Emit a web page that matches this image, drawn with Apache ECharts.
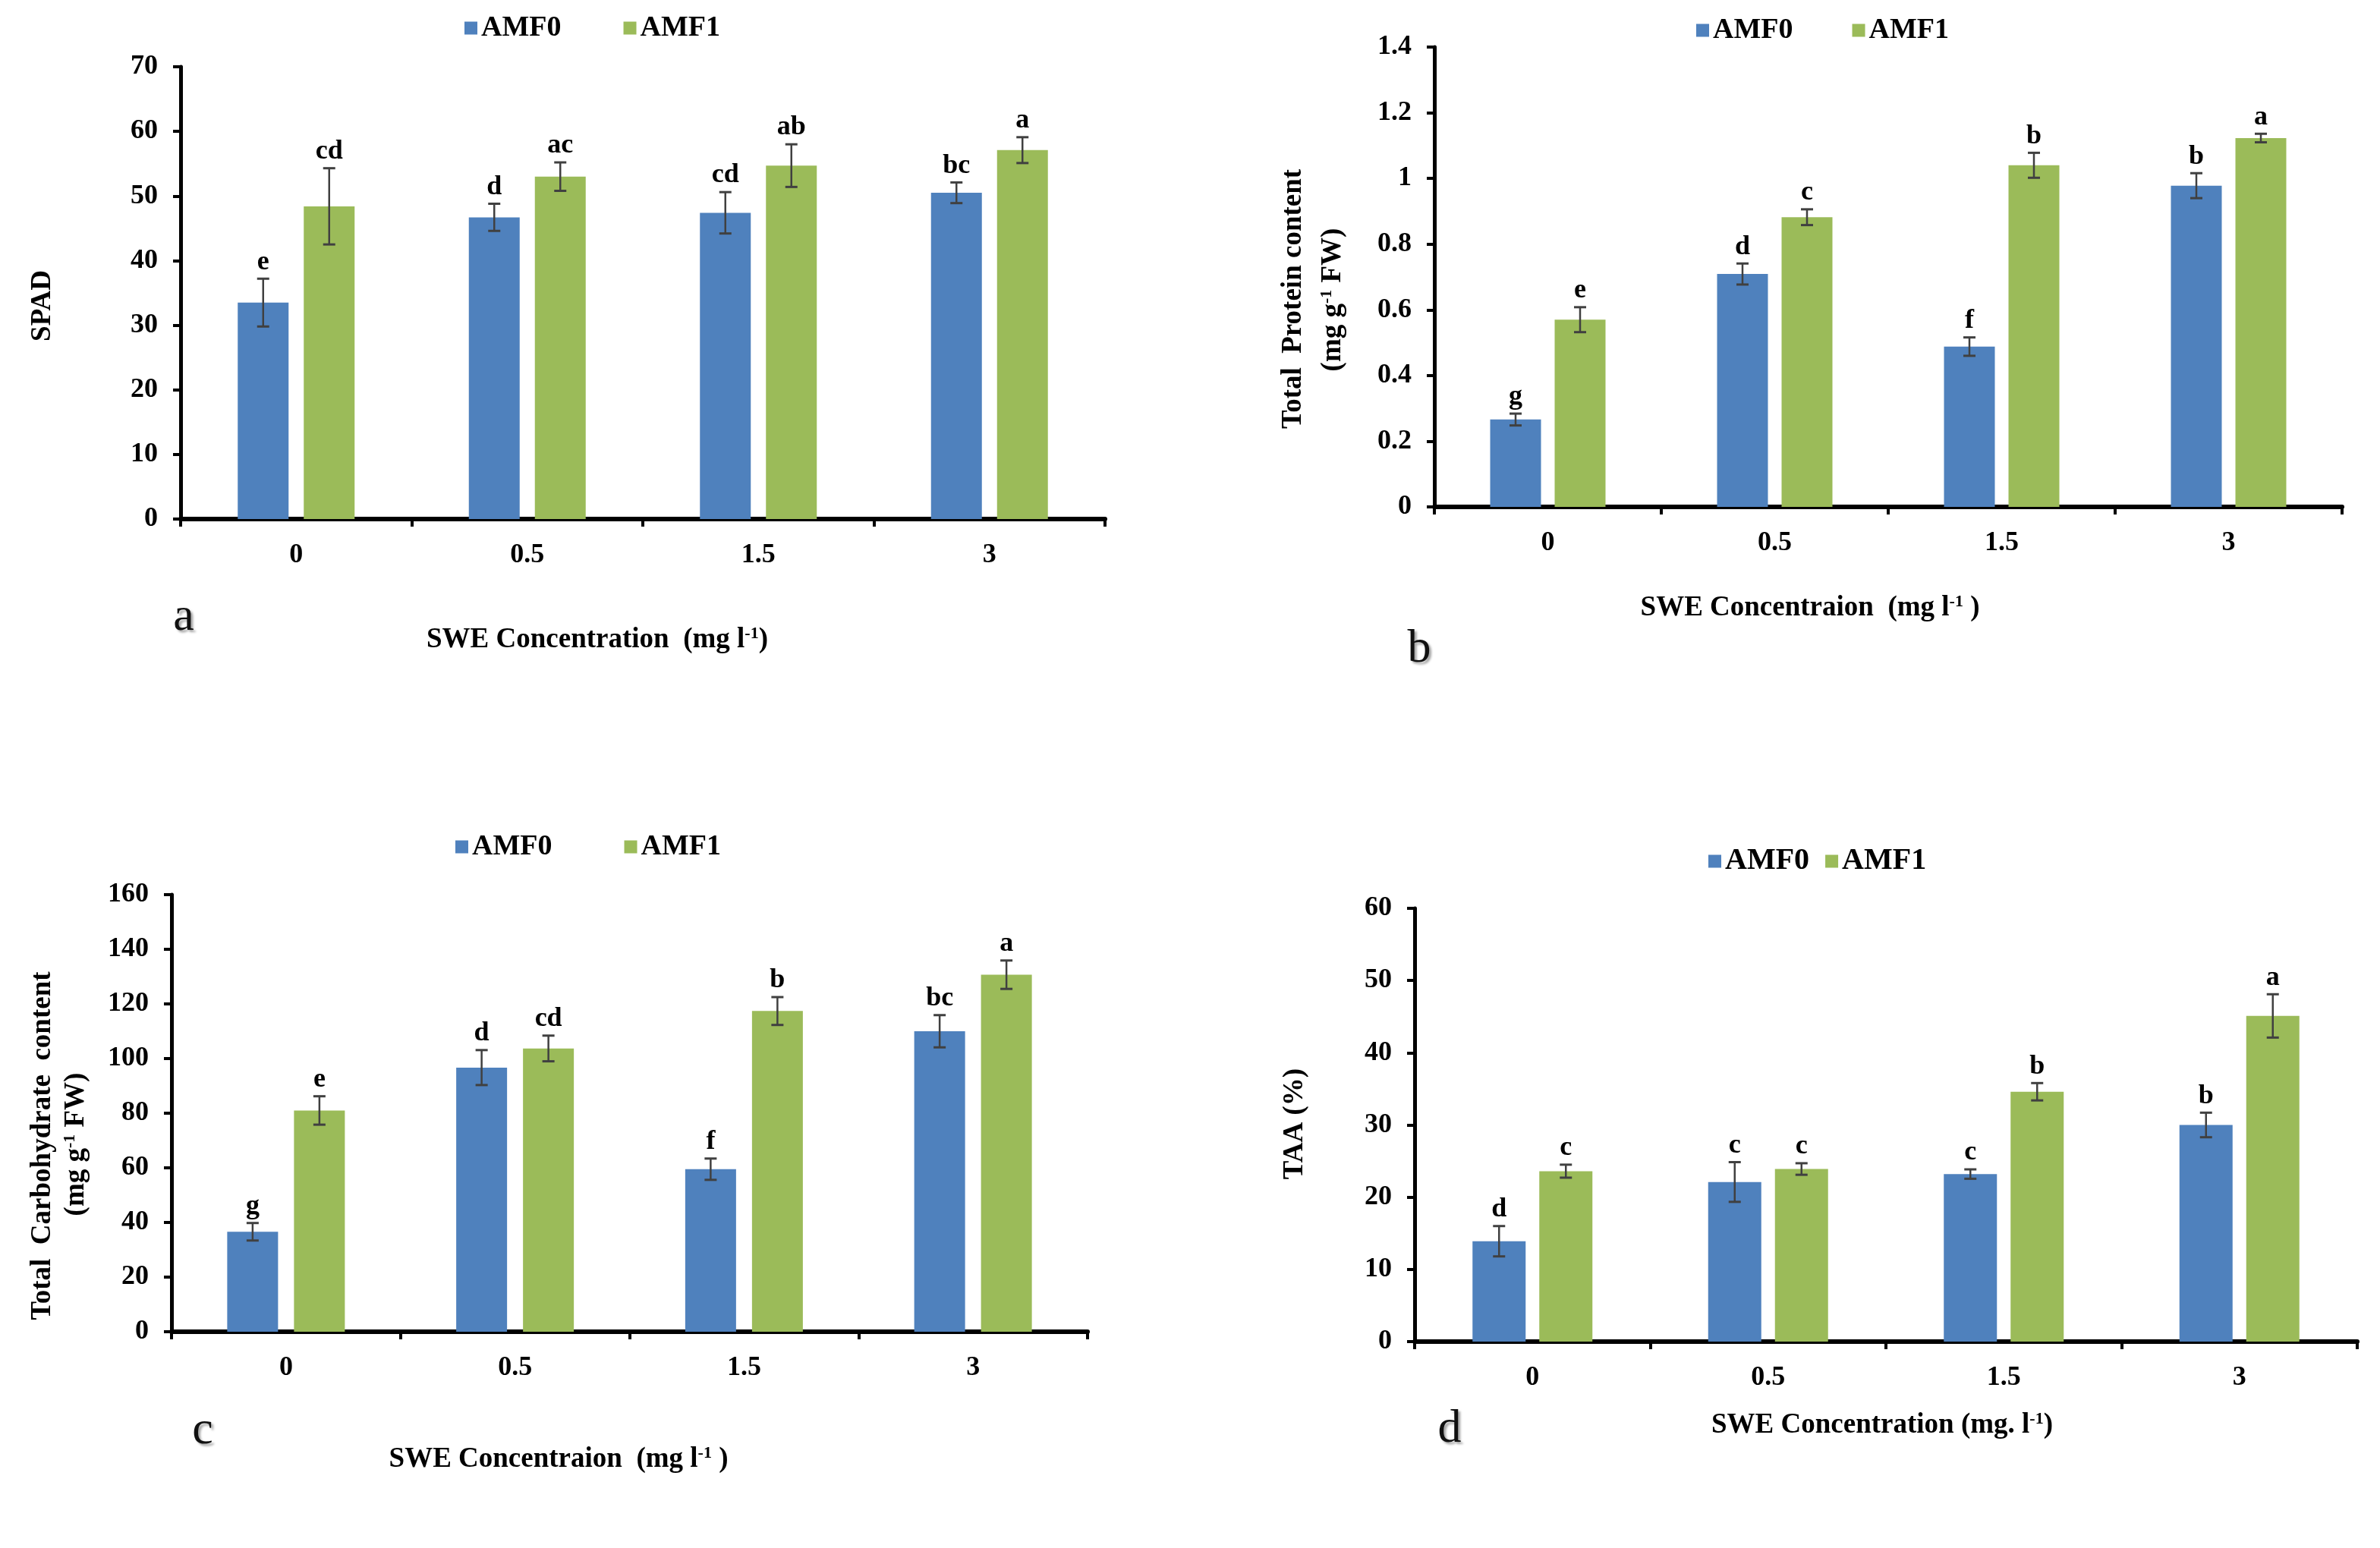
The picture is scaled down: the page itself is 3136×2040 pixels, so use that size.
<!DOCTYPE html>
<html><head><meta charset="utf-8">
<script src="https://cdn.jsdelivr.net/npm/echarts@6/dist/echarts.min.js"></script>
<style>html,body{margin:0;padding:0;background:#fff}#c{width:3136px;height:2040px}</style>
</head><body><div id="c"></div>
<script>
// ---------------- DATA ----------------
const categories = ['0', '0.5', '1.5', '3'];
const seriesNames = ['AMF0', 'AMF1'];

// (a) SPAD
const spadAMF0 = [33.5, 46.7, 47.4, 50.5];
const spadAMF0Err = [3.7, 2.1, 3.2, 1.6];
const spadAMF1 = [48.4, 53.0, 54.7, 57.1];
const spadAMF1Err = [5.9, 2.2, 3.3, 2.0];
const spadAMF0Letters = ['e', 'd', 'cd', 'bc'];
const spadAMF1Letters = ['cd', 'ac', 'ab', 'a'];

// (b) Total protein content
const proteinAMF0 = [0.266, 0.709, 0.488, 0.978];
const proteinAMF0Err = [0.018, 0.032, 0.028, 0.038];
const proteinAMF1 = [0.570, 0.882, 1.040, 1.123];
const proteinAMF1Err = [0.038, 0.024, 0.038, 0.013];
const proteinAMF0Letters = ['g', 'd', 'f', 'b'];
const proteinAMF1Letters = ['e', 'c', 'b', 'a'];

// (c) Total carbohydrate content
const carbAMF0 = [36.6, 96.7, 59.5, 110.0];
const carbAMF0Err = [3.2, 6.4, 3.9, 5.9];
const carbAMF1 = [81.0, 103.7, 117.4, 130.7];
const carbAMF1Err = [5.2, 4.7, 5.1, 5.2];
const carbAMF0Letters = ['g', 'd', 'f', 'bc'];
const carbAMF1Letters = ['e', 'cd', 'b', 'a'];

// (d) TAA (%)
const taaAMF0 = [13.9, 22.1, 23.2, 30.0];
const taaAMF0Err = [2.1, 2.75, 0.65, 1.7];
const taaAMF1 = [23.6, 23.9, 34.6, 45.1];
const taaAMF1Err = [0.9, 0.8, 1.2, 3.0];
const taaAMF0Letters = ['d', 'c', 'c', 'b'];
const taaAMF1Letters = ['c', 'c', 'b', 'a'];

// axis ranges
const yMax = [70, 1.4, 160, 60];
const yInterval = [10, 0.2, 20, 10];

// ---------------- STYLE / LAYOUT ----------------
const FONT = '"Liberation Serif", "Times New Roman", serif';
const BLUE = '#4F81BD', GREEN = '#9BBB59', ERR = '#404040';

const panels = [
  { grid: { left: 238, top: 88, width: 1218, height: 596 }, barWidth: 67, gap: 20,
    legend: { left: 612, top: 18, itemGap: 82, fontSize: 38 },
    vals: [spadAMF0, spadAMF1], errs: [spadAMF0Err, spadAMF1Err], letters: [spadAMF0Letters, spadAMF1Letters] },
  { grid: { left: 1890, top: 62, width: 1196, height: 606 }, barWidth: 67, gap: 18,
    legend: { left: 2235, top: 21, itemGap: 78, fontSize: 38 },
    vals: [proteinAMF0, proteinAMF1], errs: [proteinAMF0Err, proteinAMF1Err], letters: [proteinAMF0Letters, proteinAMF1Letters] },
  { grid: { left: 226, top: 1179, width: 1207, height: 576 }, barWidth: 67, gap: 21,
    legend: { left: 600, top: 1097, itemGap: 95, fontSize: 38 },
    vals: [carbAMF0, carbAMF1], errs: [carbAMF0Err, carbAMF1Err], letters: [carbAMF0Letters, carbAMF1Letters] },
  { grid: { left: 1864, top: 1197, width: 1242, height: 571 }, barWidth: 70, gap: 18,
    legend: { left: 2251, top: 1115, itemGap: 21, fontSize: 40 },
    vals: [taaAMF0, taaAMF1], errs: [taaAMF0Err, taaAMF1Err], letters: [taaAMF0Letters, taaAMF1Letters] }
];

const grids = [], xAxes = [], yAxes = [], legends = [], series = [];

panels.forEach((p, k) => {
  grids.push(Object.assign({ containLabel: false }, p.grid));
  xAxes.push({
    type: 'category', gridIndex: k, data: categories,
    axisLine: { lineStyle: { color: '#000', width: 6 } },
    axisTick: { show: true, length: 10, lineStyle: { color: '#000', width: 4 } },
    axisLabel: { margin: 30, fontFamily: FONT, fontWeight: 'bold', fontSize: 36, color: '#000' },
    splitLine: { show: false }
  });
  yAxes.push({
    type: 'value', gridIndex: k, min: 0, max: yMax[k], interval: yInterval[k],
    axisLine: { show: true, lineStyle: { color: '#000', width: 5 } },
    axisTick: { show: true, length: 10, lineStyle: { color: '#000', width: 4 } },
    axisLabel: { margin: 30, fontFamily: FONT, fontWeight: 'bold', fontSize: 36, color: '#000' },
    splitLine: { show: false }
  });
  legends.push({
    data: seriesNames, left: p.legend.left, top: p.legend.top, orient: 'horizontal',
    icon: 'rect', itemWidth: 17, itemHeight: 17, itemGap: p.legend.itemGap, padding: 0,
    selectedMode: false,
    textStyle: { fontFamily: FONT, fontWeight: 'bold', fontSize: p.legend.fontSize, color: '#000' }
  });
  [0, 1].forEach(s => {
    series.push({
      name: seriesNames[s], type: 'bar', xAxisIndex: k, yAxisIndex: k,
      data: p.vals[s], barWidth: p.barWidth, barGap: (p.gap / p.barWidth * 100) + '%',
      itemStyle: { color: s === 0 ? BLUE : GREEN }, silent: true
    });
  });
  [0, 1].forEach(s => {
    const offset = (s === 0 ? -1 : 1) * (p.barWidth + p.gap) / 2;
    const letters = p.letters[s];
    series.push({
      type: 'custom', xAxisIndex: k, yAxisIndex: k, z: 5, silent: true,
      data: p.vals[s].map((v, i) => [i, v, p.errs[s][i]]),
      encode: { x: 0, y: 1 },
      renderItem: (params, api) => {
        const i = api.value(0), v = api.value(1), e = api.value(2);
        const t = api.coord([i, v + e]);
        const b = api.coord([i, v - e]);
        const x = t[0] + offset;
        const cw = 8;
        const ls = { stroke: ERR, lineWidth: 3 };
        return {
          type: 'group', children: [
            { type: 'line', shape: { x1: x, y1: t[1], x2: x, y2: b[1] }, style: { stroke: ERR, lineWidth: 2.5 } },
            { type: 'line', shape: { x1: x - cw, y1: t[1], x2: x + cw, y2: t[1] }, style: ls },
            { type: 'line', shape: { x1: x - cw, y1: b[1], x2: x + cw, y2: b[1] }, style: ls },
            { type: 'text', style: { text: letters[params.dataIndex], x: x, y: t[1] - 4,
                align: 'center', verticalAlign: 'bottom', fill: '#000',
                font: 'bold 36px ' + FONT } }
          ]
        };
      }
    });
  });
});

// ---------------- TITLES ----------------
const rich = {
  n: { fontFamily: FONT, fontWeight: 'bold', fontSize: 37, fill: '#000', color: '#000' },
  s: { fontFamily: FONT, fontWeight: 'bold', fontSize: 22, fill: '#000', color: '#000', padding: [0, 0, 16, 0] }
};
function txt(x, y, text, rot) {
  return { type: 'text', x: x, y: y, rotation: rot || 0, silent: true,
    style: { text: text, rich: rich, align: 'center', verticalAlign: 'middle',
      fontFamily: FONT, fontWeight: 'bold', fontSize: 37, fill: '#000' } };
}
function letter(x, y, t) {
  return { type: 'text', x: x, y: y, silent: true,
    style: { text: t, align: 'center', verticalAlign: 'middle', fontFamily: FONT, fontSize: 62, fill: '#111',
      textShadowColor: 'rgba(0,0,0,0.35)', textShadowOffsetX: 3, textShadowOffsetY: 3, textShadowBlur: 3 } };
}
const R = Math.PI / 2;
const graphics = [
  txt(56, 403, '{n|SPAD}', R),
  txt(787, 843, '{n|SWE Concentration  (mg l}{s|-1}{n|)}'),
  txt(1704, 394, '{n|Total  Protein content}', R),
  txt(1756, 395, '{n|(mg g}{s|-1}{n| FW)}', R),
  txt(2385, 801, '{n|SWE Concentraion  (mg l}{s|-1}{n| )}'),
  txt(56, 1510, '{n|Total  Carbohydrate  content}', R),
  txt(100, 1508, '{n|(mg g}{s|-1}{n| FW)}', R),
  txt(736, 1923, '{n|SWE Concentraion  (mg l}{s|-1}{n| )}'),
  txt(1706, 1481, '{n|TAA (%)}', R),
  txt(2480, 1878, '{n|SWE Concentration (mg. l}{s|-1}{n|)}'),
  letter(242, 814, 'a'),
  letter(1870, 856, 'b'),
  letter(267, 1886, 'c'),
  letter(1910, 1884, 'd')
];

const chart = echarts.init(document.getElementById('c'), null, { renderer: 'canvas' });
chart.setOption({
  animation: false,
  backgroundColor: '#fff',
  grid: grids, xAxis: xAxes, yAxis: yAxes, legend: legends, series: series,
  graphic: graphics
});
</script></body></html>
